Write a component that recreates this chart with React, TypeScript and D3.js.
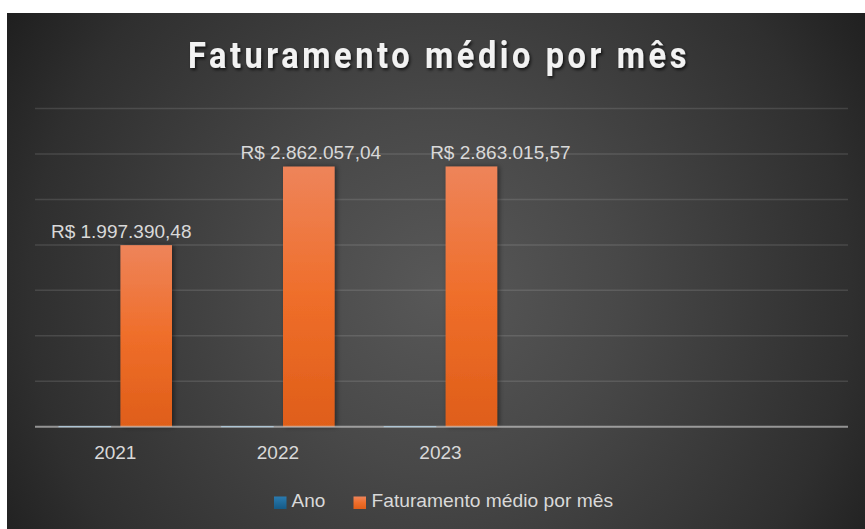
import React from "react";
import * as d3 from "d3";

const categories = ["2021", "2022", "2023", "", ""];
const seriesNames = ["Ano", "Faturamento médio por mês"];
const anoValues = [2021, 2022, 2023];
const faturamentoValues = [1997390.48, 2862057.04, 2863015.57];
const yTickValues = [0, 500000, 1000000, 1500000, 2000000, 2500000, 3000000, 3500000];
const titleText = "Faturamento médio por mês";

// data labels were dragged sideways in the original chart
const labelShift = [-25, 2, 29];

const W = 865;
const H = 529;
const plot = { left: 35, right: 848, top: 108.6, bottom: 426.7 };

const ptBR = d3.formatLocale({
  decimal: ",",
  thousands: ".",
  grouping: [3],
  currency: ["R$ ", ""],
});
const fmt = ptBR.format("$,.2f");

const FONT = "'Liberation Sans', Arial, sans-serif";
const TEXT = "#d9d9d9";

export default function App() {
  const x0 = d3
    .scaleBand<number>()
    .domain(d3.range(categories.length))
    .range([plot.left, plot.right]);
  const x1 = d3
    .scaleBand<string>()
    .domain(seriesNames)
    .range([24, x0.bandwidth() - 25.6])
    .paddingInner(0.16);
  const y = d3.scaleLinear().domain([0, 3500000]).range([plot.bottom, plot.top]);

  return (
    <svg
      width={W}
      height={H}
      style={{ position: "fixed", left: 0, top: 0, display: "block" }}
    >
      <defs>
        <radialGradient id="bg" gradientUnits="userSpaceOnUse" cx={440} cy={290} r={514}>
          <stop offset="0" stopColor="#585858" />
          <stop offset="0.35" stopColor="#484848" />
          <stop offset="0.8" stopColor="#2f2f2f" />
          <stop offset="1" stopColor="#1f1f1f" />
        </radialGradient>
        <linearGradient id="orange" x1="0" y1="0" x2="0" y2="1">
          <stop offset="0" stopColor="#ee845a" />
          <stop offset="0.5" stopColor="#ef6e2a" />
          <stop offset="1" stopColor="#df5e19" />
        </linearGradient>
        <linearGradient id="blue" x1="0" y1="0" x2="0" y2="1">
          <stop offset="0" stopColor="#2a7bb0" />
          <stop offset="1" stopColor="#155a86" />
        </linearGradient>
        <filter id="barShadow" x="-20%" y="-5%" width="150%" height="110%">
          <feDropShadow dx="2" dy="0" stdDeviation="2.5" floodColor="#000" floodOpacity="0.45" />
        </filter>
        <filter id="titleShadow" x="-5%" y="-20%" width="110%" height="160%">
          <feDropShadow dx="1.5" dy="2" stdDeviation="1.5" floodColor="#000" floodOpacity="0.7" />
        </filter>
      </defs>

      <rect x={0} y={0} width={W} height={H} fill="#ffffff" />
      <rect x={7} y={13} width={W - 7} height={H - 13} fill="url(#bg)" />

      <text
        x={188}
        y={67.5}
        fill="#f2f2f2"
        fontFamily="Roboto, 'Liberation Sans', sans-serif"
        fontWeight={700}
        fontSize={36}
        letterSpacing={4}
        textLength={502}
        lengthAdjust="spacingAndGlyphs"
        filter="url(#titleShadow)"
      >
        {titleText}
      </text>

      {yTickValues.slice(1).map((t) => (
        <line
          key={t}
          x1={plot.left}
          x2={plot.right}
          y1={y(t)}
          y2={y(t)}
          stroke="#d9d9d9"
          strokeOpacity={0.15}
          strokeWidth={1.5}
        />
      ))}

      {anoValues.map((v, i) => {
        const bx = (x0(i) as number) + (x1("Ano") as number);
        return (
          <rect
            key={"a" + i}
            x={bx}
            y={y(v)}
            width={x1.bandwidth()}
            height={plot.bottom - y(v)}
            fill="url(#blue)"
            stroke="#6fa8d0"
            strokeWidth={1}
          />
        );
      })}

      {faturamentoValues.map((v, i) => {
        const bx = (x0(i) as number) + (x1(seriesNames[1]) as number);
        return (
          <rect
            key={"f" + i}
            x={bx}
            y={y(v)}
            width={x1.bandwidth()}
            height={plot.bottom - y(v)}
            fill="url(#orange)"
            filter="url(#barShadow)"
          />
        );
      })}

      <line
        x1={plot.left}
        x2={plot.right}
        y1={plot.bottom}
        y2={plot.bottom}
        stroke="#d9d9d9"
        strokeOpacity={0.6}
        strokeWidth={2}
      />

      {faturamentoValues.map((v, i) => {
        const cx =
          (x0(i) as number) + (x1(seriesNames[1]) as number) + x1.bandwidth() / 2 + labelShift[i];
        return (
          <text
            key={"l" + i}
            x={cx}
            y={y(v) - 7.5}
            textAnchor="middle"
            fill={TEXT}
            fontFamily={FONT}
            fontSize={19}
          >
            {fmt(v)}
          </text>
        );
      })}

      {categories.map((c, i) => (
        <text
          key={"c" + i}
          x={(x0(i) as number) + x0.bandwidth() / 2 - 1}
          y={459}
          textAnchor="middle"
          fill={TEXT}
          fontFamily={FONT}
          fontSize={19}
        >
          {c}
        </text>
      ))}

      <g>
        <rect x={274} y={496.5} width={12.5} height={12.5} fill="url(#blue)" />
        <text x={291.5} y={506.7} fill={TEXT} fontFamily={FONT} fontSize={19}>
          {seriesNames[0]}
        </text>
        <rect x={353.5} y={496.5} width={12.5} height={12.5} fill="url(#orange)" />
        <text
          x={371.5}
          y={506.7}
          fill={TEXT}
          fontFamily={FONT}
          fontSize={19}
          textLength={241.5}
          lengthAdjust="spacingAndGlyphs"
        >
          {seriesNames[1]}
        </text>
      </g>
    </svg>
  );
}
